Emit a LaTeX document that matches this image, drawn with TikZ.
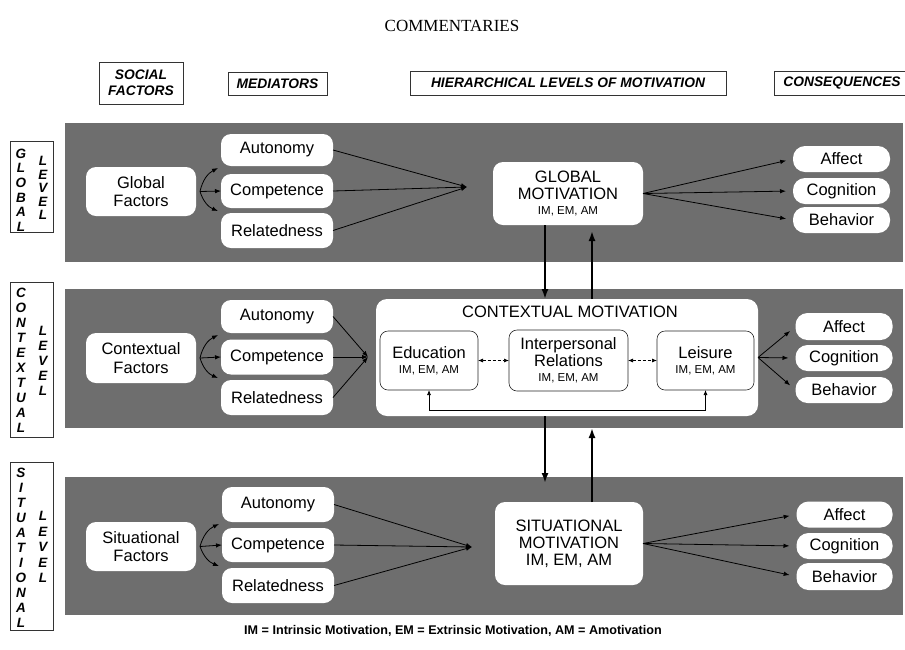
\documentclass[tikz,border=0pt]{standalone}
\usepackage{fontspec}
\setmainfont{Liberation Sans}
\newfontfamily\serifface{Liberation Serif}
\usetikzlibrary{arrows.meta,calc}
\newcommand{\tagsz}{\fontsize{11.5}{13}\selectfont}
\begin{document}
\begin{tikzpicture}[x=1pt,y=-1pt,
  every node/.style={inner sep=0pt, outer sep=0pt},
  band/.style={fill=black!57, anchor=north west, minimum width=838},
  hdr/.style={draw=black!80, line width=0.8pt, align=center,
    font=\bfseries\itshape\fontsize{13.8}{16}\selectfont},
  lvlbox/.style={draw=black!80, line width=0.8pt, fill=white, anchor=north west, minimum width=43},
  lvl/.style={align=center, font=\bfseries\itshape\fontsize{13.5}{#1}\selectfont},
  fac/.style={fill=white, rounded corners=10pt, minimum width=110, minimum height=49,
    align=center, font=\fontsize{16.5}{18.5}\selectfont},
  med/.style={fill=white, rounded corners=10pt, minimum width=112,
    font=\fontsize{16.5}{18}\selectfont},
  cons/.style={fill=white, rounded corners=12pt, minimum width=97, minimum height=26,
    font=\fontsize{16.5}{18}\selectfont},
  mot/.style={fill=white, rounded corners=10pt, align=center,
    font=\fontsize{16.5}{17}\selectfont},
  ctx/.style={draw=black!85, line width=0.6pt, fill=white, rounded corners=8pt, align=center,
    minimum height=59, font=\fontsize{16.5}{17}\selectfont},
  arr/.style={-{Latex[length=6pt,width=4.5pt]}, line width=0.8pt},
  twoway/.style={{Latex[length=5pt,width=4pt]}-{Latex[length=5pt,width=4pt]}, line width=0.7pt},
  varr/.style={-{Latex[length=10pt,width=7pt]}, line width=1.8pt}
]
\useasboundingbox (0,0) rectangle (905,649);

% title and column headings
\node[font=\serifface\fontsize{17}{17}\selectfont] (title) at (452,26) {COMMENTARIES};
\node[hdr, minimum width=84, minimum height=42] (hsoc) at (141,83) {SOCIAL\\FACTORS};
\node[hdr, minimum width=99, minimum height=23] (hmed) at (277.5,83.5) {MEDIATORS};
\node[hdr, minimum width=316, minimum height=24] (hhier) at (568,83) {HIERARCHICAL LEVELS OF MOTIVATION};
\node[hdr, minimum width=136, minimum height=24] (hcons) at (842,83) {CONSEQUENCES};

% shaded level bands
\node[band, minimum height=139] (gband) at (65,123) {};
\node[band, minimum height=139] (cband) at (65,289) {};
\node[band, minimum height=138] (sband) at (65,477) {};

% level labels
\node[lvlbox, minimum height=91] (glab) at (10,141) {};
\node[lvl=14.6] (glabA) at (21,190) {G\\L\\O\\B\\A\\L};
\node[lvl=13.5] (glabB) at (43,188) {L\\E\\V\\E\\L};
\node[lvlbox, minimum height=155] (clab) at (10,282) {};
\node[lvl=15] (clabA) at (21,360) {C\\O\\N\\T\\E\\X\\T\\U\\A\\L};
\node[lvl=15] (clabB) at (43,361) {L\\E\\V\\E\\L};
\node[lvlbox, minimum height=168] (slab) at (10,462) {};
\node[lvl=15] (slabA) at (21,548) {S\\I\\T\\U\\A\\T\\I\\O\\N\\A\\L};
\node[lvl=15.5] (slabB) at (43,547) {L\\E\\V\\E\\L};

% ---------------- global level
\node[fac] (gfac) at (141,191.5) {Global\\Factors};
\node[med, minimum height=32] (gaut) at (277,150) {Autonomy};
\node[med, minimum height=34] (gcom) at (277,191) {Competence};
\node[med, minimum height=35] (grel) at (277,230.5) {Relatedness};
\node[mot, minimum width=150, minimum height=63] (gmot) at (568,193.5)
  {GLOBAL\\MOTIVATION\\[-2pt]{\tagsz IM, EM, AM}};
\node[cons] (gaff) at (841.5,159) {Affect};
\node[cons] (gcog) at (841.5,191) {Cognition};
\node[cons] (gbeh) at (841.5,220) {Behavior};

% ---------------- contextual level
\node[fac, minimum height=50] (cfac) at (141,358) {Contextual\\Factors};
\node[med, minimum height=33] (caut) at (277,316.5) {Autonomy};
\node[med, minimum height=35] (ccom) at (277,357) {Competence};
\node[med, minimum height=35] (crel) at (277,397.5) {Relatedness};
\node[fill=white, rounded corners=11pt, minimum width=382, minimum height=117] (cmot) at (567,357.5) {};
\node[font=\fontsize{16.5}{18}\selectfont] (cmottitle) at (570,312) {CONTEXTUAL MOTIVATION};
\node[ctx, minimum width=98] (edu) at (429,360.5) {Education\\[-2pt]{\tagsz IM, EM, AM}};
\node[ctx, minimum width=119, minimum height=61] (inter) at (568.5,360.5)
  {Interpersonal\\Relations\\[-2pt]{\tagsz IM, EM, AM}};
\node[ctx, minimum width=97] (leis) at (705.5,360.5) {Leisure\\[-2pt]{\tagsz IM, EM, AM}};
\node[cons, minimum height=27] (caff) at (844,326.5) {Affect};
\node[cons] (ccog) at (844,358) {Cognition};
\node[cons] (cbeh) at (844,390) {Behavior};

% ---------------- situational level
\node[fac] (sfac) at (141,546.5) {Situational\\Factors};
\node[med, minimum height=35] (saut) at (278,504.5) {Autonomy};
\node[med, minimum height=34] (scom) at (278,545) {Competence};
\node[med, minimum height=35] (srel) at (278,585.5) {Relatedness};
\node[mot, minimum width=148, minimum height=83] (smot) at (569,543.5)
  {SITUATIONAL\\MOTIVATION\\IM, EM, AM};
\node[cons, minimum width=96] (saff) at (844.5,514.5) {Affect};
\node[cons, minimum width=96] (scog) at (844.5,546) {Cognition};
\node[cons, minimum width=96, minimum height=27] (sbeh) at (844.5,576.5) {Behavior};

% footnote
\node[font=\bfseries\fontsize{12.6}{14}\selectfont] (note) at (453,631)
  {IM = Intrinsic Motivation, EM = Extrinsic Motivation, AM = Amotivation};

% ---------------- connectors
\coordinate (gconv) at (467,187);
\coordinate (cconv) at (368,357);
\coordinate (sconv) at (472,547);

\foreach \lv in {g,c,s}{
  \coordinate (\lv fo) at ($(\lv fac.east)+(4,0)$);
  \draw[arr] (\lv fo) to[bend left=25] ($(\lv aut.south west)+(-3,2)$);
  \draw[arr] (\lv fo) -- (\lv com.west);
  \draw[arr] (\lv fo) to[bend right=25] ($(\lv rel.north west)+(-3,-2)$);
  \foreach \m in {aut,com,rel}
    \draw[arr] (\lv\m.east) -- (\lv conv);
}
\foreach \c in {aff,cog,beh}{
  \draw[arr, shorten >=7pt] (gmot.east) -- (g\c.west);
  \draw[arr, shorten >=7pt] (cmot.east) -- (c\c.west);
  \draw[arr, shorten >=7pt] (smot.east) -- (s\c.west);
}

% links among the contextual domains
\draw[twoway, densely dashed] (edu.east) -- (inter.west);
\draw[twoway, densely dashed] (inter.east) -- (leis.west);
\coordinate (loopy) at (0,410);
\draw[twoway] (edu.south) -- (edu.south |- loopy) -| (leis.south);

% top-down and bottom-up effects between levels
\coordinate (xa) at (545,0);
\coordinate (xb) at (592,0);
\coordinate (dnend) at (545,483);
\draw[varr] (xa |- gmot.south) -- (xa |- cmot.north);
\draw[varr, shorten >=6pt] (xb |- cmot.north) -- (xb |- gmot.south);
\draw[varr] (xa |- cmot.south) -- (dnend);
\draw[varr] (xb |- smot.north) -- (xb |- cband.south);
\end{tikzpicture}
\end{document}
